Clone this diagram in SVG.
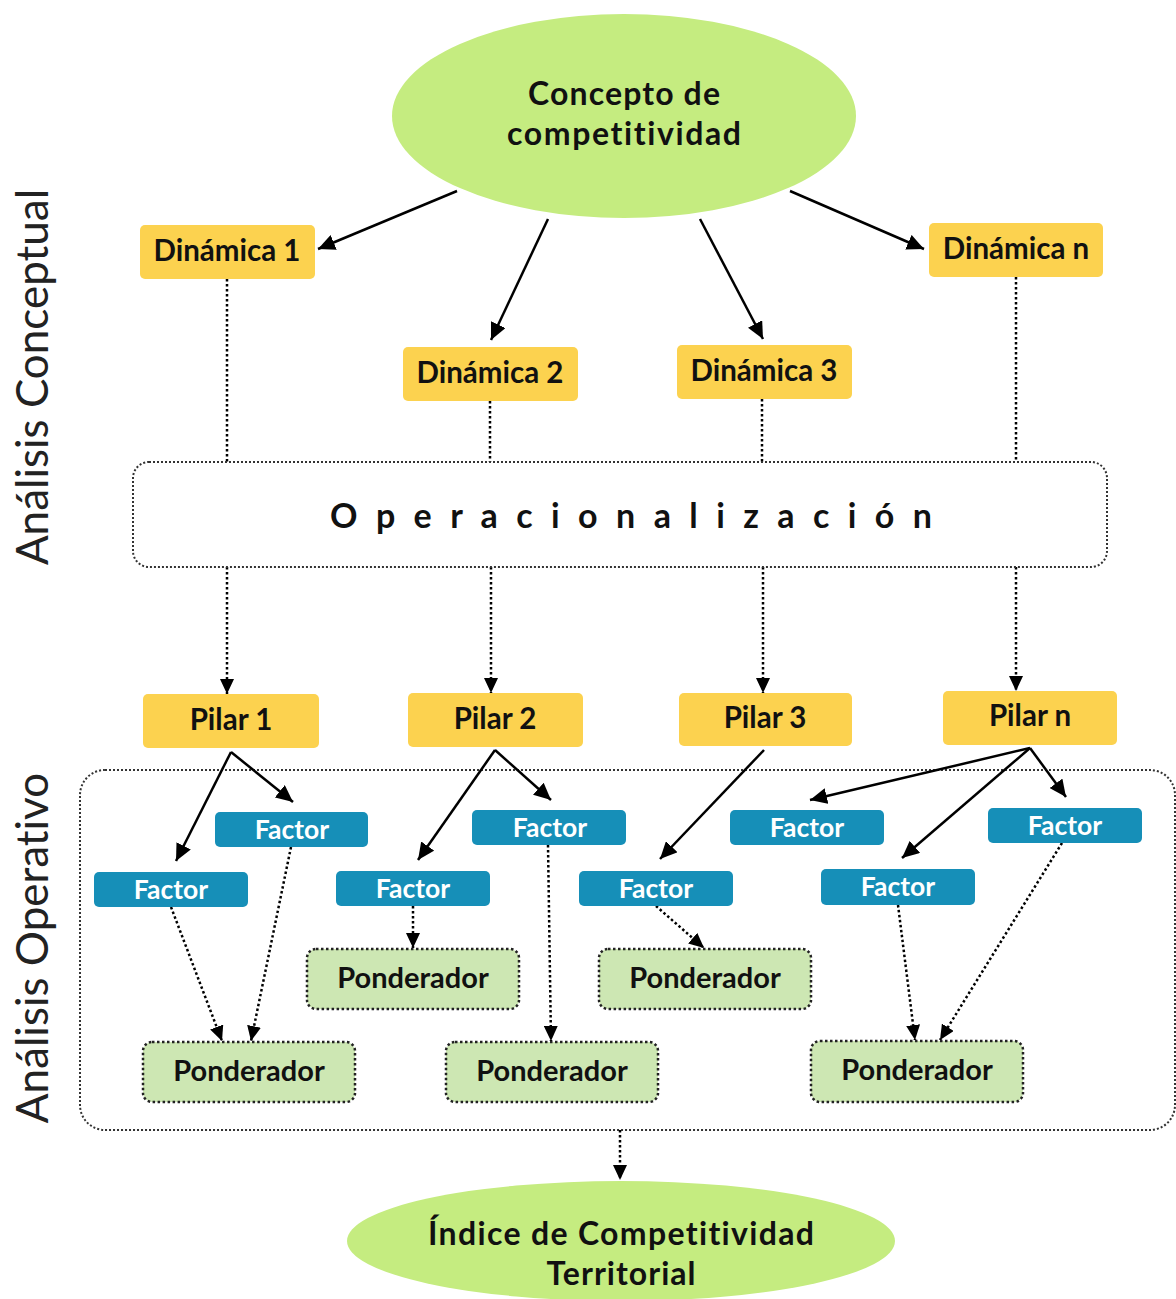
<svg xmlns="http://www.w3.org/2000/svg" width="1176" height="1299" viewBox="0 0 1176 1299">
<defs>
<marker id="ah" markerUnits="userSpaceOnUse" markerWidth="18" markerHeight="16" refX="17" refY="8" orient="auto">
<path d="M0,0 L17,8 L0,16 z" fill="#000"/>
</marker>
<marker id="ahd" markerUnits="userSpaceOnUse" markerWidth="16" markerHeight="14" refX="15" refY="7" orient="auto">
<path d="M0,0 L15,7 L0,14 z" fill="#000"/>
</marker>
</defs>
<style>
text{font-family:Lato,"Open Sans","Liberation Sans",sans-serif;text-anchor:middle;font-variant-ligatures:none}
.b{font-weight:bold}
.ell{fill:#C5EC80}
.yel{fill:#FCD24F}
.blu{fill:#168FB8}
.pon{fill:#CDE7B3;stroke:#222;stroke-width:2.5;stroke-dasharray:2.5 2.5}
.frame{fill:none;stroke:#333;stroke-width:2;stroke-dasharray:2 2}
.ft{font-size:32px;font-weight:bold;fill:#111}
.yt{font-size:29.5px;font-weight:bold;fill:#111}
.wt{font-size:26.5px;font-weight:bold;fill:#fff}
.pt{font-size:29px;font-weight:bold;fill:#111}
.side{font-size:44px;fill:#222}
.sol{stroke:#000;stroke-width:2.5;fill:none;marker-end:url(#ah)}
.dot{stroke:#000;stroke-width:2.5;fill:none;stroke-dasharray:2.5 2.5}
.dota{stroke:#000;stroke-width:2.5;fill:none;stroke-dasharray:2.5 2.5;marker-end:url(#ahd)}
</style>
<rect width="1176" height="1299" fill="#fff"/>

<text class="side" transform="translate(48,377) rotate(-90)">Análisis Conceptual</text>
<text class="side" transform="translate(48,948) rotate(-90)">Análisis Operativo</text>

<g id="operativo-frame"><rect class="frame" x="80" y="770" width="1095" height="360" rx="25"/></g>

<g id="connectors">
<line class="sol" x1="457" y1="191" x2="318" y2="249"/>
<line class="sol" x1="548" y1="219" x2="491" y2="340"/>
<line class="sol" x1="700" y1="219" x2="763" y2="339"/>
<line class="sol" x1="790" y1="191" x2="924" y2="249"/>
<line class="dot" x1="227" y1="279" x2="227" y2="462"/>
<line class="dot" x1="490" y1="401" x2="490" y2="462"/>
<line class="dot" x1="762" y1="399" x2="762" y2="462"/>
<line class="dot" x1="1016" y1="277" x2="1016" y2="462"/>
<line class="dota" x1="227" y1="567" x2="227" y2="694"/>
<line class="dota" x1="491" y1="567" x2="491" y2="693"/>
<line class="dota" x1="763" y1="567" x2="763" y2="693"/>
<line class="dota" x1="1016" y1="567" x2="1016" y2="691"/>
<line class="sol" x1="231" y1="752" x2="176" y2="861"/>
<line class="sol" x1="231" y1="752" x2="293" y2="802"/>
<line class="sol" x1="495" y1="750" x2="418" y2="860"/>
<line class="sol" x1="495" y1="750" x2="551" y2="800"/>
<line class="sol" x1="764" y1="750" x2="660" y2="859"/>
<line class="sol" x1="1030" y1="748" x2="810" y2="800"/>
<line class="sol" x1="1030" y1="748" x2="902" y2="858"/>
<line class="sol" x1="1030" y1="748" x2="1066" y2="797"/>
<line class="dota" x1="171" y1="907" x2="222" y2="1041"/>
<line class="dota" x1="291" y1="847" x2="251" y2="1041"/>
<line class="dota" x1="413" y1="906" x2="413" y2="948"/>
<line class="dota" x1="548" y1="845" x2="551" y2="1041"/>
<line class="dota" x1="656" y1="906" x2="704" y2="948"/>
<line class="dota" x1="898" y1="905" x2="915" y2="1040"/>
<line class="dota" x1="1062" y1="843" x2="940" y2="1040"/>
<line class="dota" x1="620" y1="1130" x2="620" y2="1180"/>
</g>

<g id="concepto"><ellipse class="ell" cx="624" cy="116" rx="232" ry="102"/>
<text class="ft" x="624" y="105" textLength="192" lengthAdjust="spacing">Concepto de</text>
<text class="ft" x="624" y="145" textLength="234" lengthAdjust="spacing">competitividad</text></g>

<g id="dinamica1"><rect class="yel" x="140" y="225" width="175" height="54" rx="5"/><text class="yt" x="227" y="261">Dinámica 1</text></g>
<g id="dinamica2"><rect class="yel" x="403" y="347" width="175" height="54" rx="5"/><text class="yt" x="490" y="383">Dinámica 2</text></g>
<g id="dinamica3"><rect class="yel" x="677" y="345" width="175" height="54" rx="5"/><text class="yt" x="764" y="381">Dinámica 3</text></g>
<g id="dinamican"><rect class="yel" x="929" y="223" width="174" height="54" rx="5"/><text class="yt" x="1016" y="259">Dinámica n</text></g>

<g id="operacionalizacion"><rect class="frame" x="133" y="462" width="974" height="105" rx="16"/>
<text class="b" x="631" y="528" font-size="34" fill="#111" textLength="602" lengthAdjust="spacing">O p e r a c i o n a l i z a c i ó n</text></g>

<g id="pilar1"><rect class="yel" x="143" y="694" width="176" height="54" rx="5"/><text class="yt" x="231" y="730">Pilar 1</text></g>
<g id="pilar2"><rect class="yel" x="408" y="693" width="175" height="54" rx="5"/><text class="yt" x="495" y="729">Pilar 2</text></g>
<g id="pilar3"><rect class="yel" x="679" y="693" width="173" height="53" rx="5"/><text class="yt" x="765" y="728">Pilar 3</text></g>
<g id="pilarn"><rect class="yel" x="943" y="691" width="174" height="54" rx="5"/><text class="yt" x="1030" y="726">Pilar n</text></g>

<g id="factor1a"><rect class="blu" x="215" y="812" width="153" height="35" rx="5"/><text class="wt" x="292" y="839">Factor</text></g>
<g id="factor1b"><rect class="blu" x="94" y="872" width="154" height="35" rx="5"/><text class="wt" x="171" y="899">Factor</text></g>
<g id="factor2a"><rect class="blu" x="472" y="810" width="154" height="35" rx="5"/><text class="wt" x="550" y="837">Factor</text></g>
<g id="factor2b"><rect class="blu" x="336" y="871" width="154" height="35" rx="5"/><text class="wt" x="413" y="898">Factor</text></g>
<g id="factor3"><rect class="blu" x="579" y="871" width="154" height="35" rx="5"/><text class="wt" x="656" y="898">Factor</text></g>
<g id="factorna"><rect class="blu" x="730" y="810" width="154" height="35" rx="5"/><text class="wt" x="807" y="837">Factor</text></g>
<g id="factornb"><rect class="blu" x="988" y="808" width="154" height="35" rx="5"/><text class="wt" x="1065" y="835">Factor</text></g>
<g id="factornc"><rect class="blu" x="821" y="869" width="154" height="36" rx="5"/><text class="wt" x="898" y="896">Factor</text></g>

<g id="ponderador1"><rect class="pon" x="143" y="1042" width="212" height="60" rx="9"/><text class="pt" x="249" y="1081">Ponderador</text></g>
<g id="ponderador2"><rect class="pon" x="307" y="949" width="212" height="60" rx="9"/><text class="pt" x="413" y="988">Ponderador</text></g>
<g id="ponderador3"><rect class="pon" x="446" y="1042" width="212" height="60" rx="9"/><text class="pt" x="552" y="1081">Ponderador</text></g>
<g id="ponderador4"><rect class="pon" x="599" y="949" width="212" height="60" rx="9"/><text class="pt" x="705" y="988">Ponderador</text></g>
<g id="ponderador5"><rect class="pon" x="811" y="1041" width="212" height="61" rx="9"/><text class="pt" x="917" y="1080">Ponderador</text></g>

<g id="indice"><ellipse class="ell" cx="621" cy="1241" rx="274" ry="60"/>
<text class="ft" x="621" y="1245" textLength="386" lengthAdjust="spacing">Índice de Competitividad</text>
<text class="ft" x="621" y="1285" textLength="149" lengthAdjust="spacing">Territorial</text></g>
</svg>
